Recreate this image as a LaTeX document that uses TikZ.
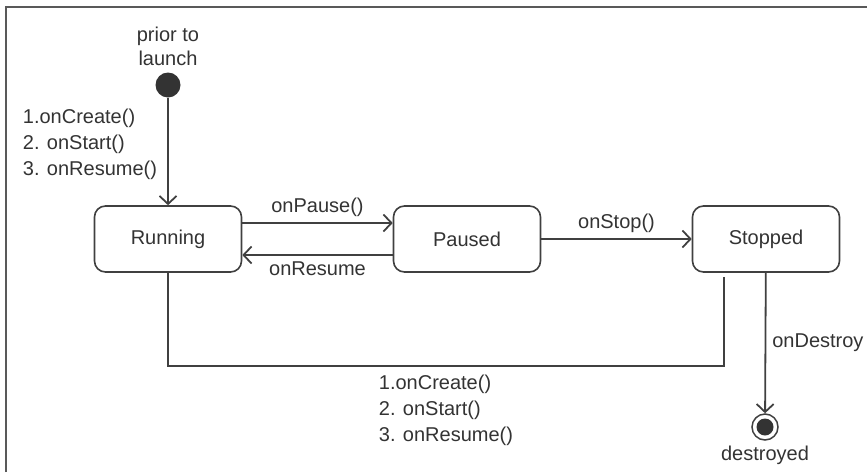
\documentclass[tikz,border=0pt]{standalone}
\usepackage{fontspec}
\setmainfont{Liberation Sans}
\usetikzlibrary{arrows.meta,positioning}

\definecolor{linegray}{HTML}{404040}
\definecolor{textgray}{HTML}{333333}

\begin{document}
\begin{tikzpicture}[x=1pt,y=1pt,>={Straight Barb[length=8pt,width=17pt]},
        node distance=299pt,line width=1.8pt,draw=linegray,
        every node/.style={text=textgray,font=\fontsize{20}{26}\selectfont},
        state node/.style={rectangle,rounded corners=11pt,draw,line width=1.6pt,minimum width=147pt,minimum height=66pt},
        start node/.style={circle,fill=textgray,draw=none,minimum size=25pt,inner sep=0pt},
        end node/.style={circle,draw,line width=1.5pt,minimum size=26pt,inner sep=0pt,
          path picture={\fill[textgray] (path picture bounding box.center) circle (8.5pt);}},
        call list/.style={align=left,anchor=north west,inner sep=0pt}]
        \useasboundingbox (0,0) rectangle (867,-472);
        % frame
        \draw[line width=2.2pt,draw=gray!70!black] (6,-472) -- (6,-7) -- (867,-7);
        % states
        \node[state node] (running) at (168,-239) {Running};
        \node[state node] (paused) [right of=running] {Paused};
        \node[state node] (stopped) [right of=paused] {Stopped};
        \node[start node] (start) at (168,-85) {};
        \node[end node] (final) at (765,-427) {};
        \node[align=center,font=\fontsize{20}{24}\selectfont] (prior) at (168,-46) {prior to\\launch};
        \node (destroyed) [below=1pt of final] {destroyed};
        % transitions
        \draw[->] (start) -- (running);
        \node[call list] (launchcalls) at (22,-108) {1.onCreate()\\2. onStart()\\3. onResume()};
        \draw[->] ([yshift=16pt]running.east) -- ([yshift=16pt]paused.west)
          node[midway,above,inner sep=5pt] {onPause()};
        \draw[->] ([yshift=-16pt]paused.west) -- ([yshift=-16pt]running.east)
          node[midway,below,inner sep=6pt] {onResume};
        \draw[->] (paused) -- (stopped) node[midway,above,inner sep=5pt] {onStop()};
        \draw[->] (stopped) -- (final) node[midway,right,inner sep=6pt] {onDestroy};
        % restart
        \coordinate (turn) at (723,-366);
        \draw ([xshift=-42pt,yshift=-4pt]stopped.south) |- (turn) -| (running.south);
        \node[call list] (restartcalls) at (378,-374) {1.onCreate()\\2. onStart()\\3. onResume()};
\end{tikzpicture}
\end{document}
